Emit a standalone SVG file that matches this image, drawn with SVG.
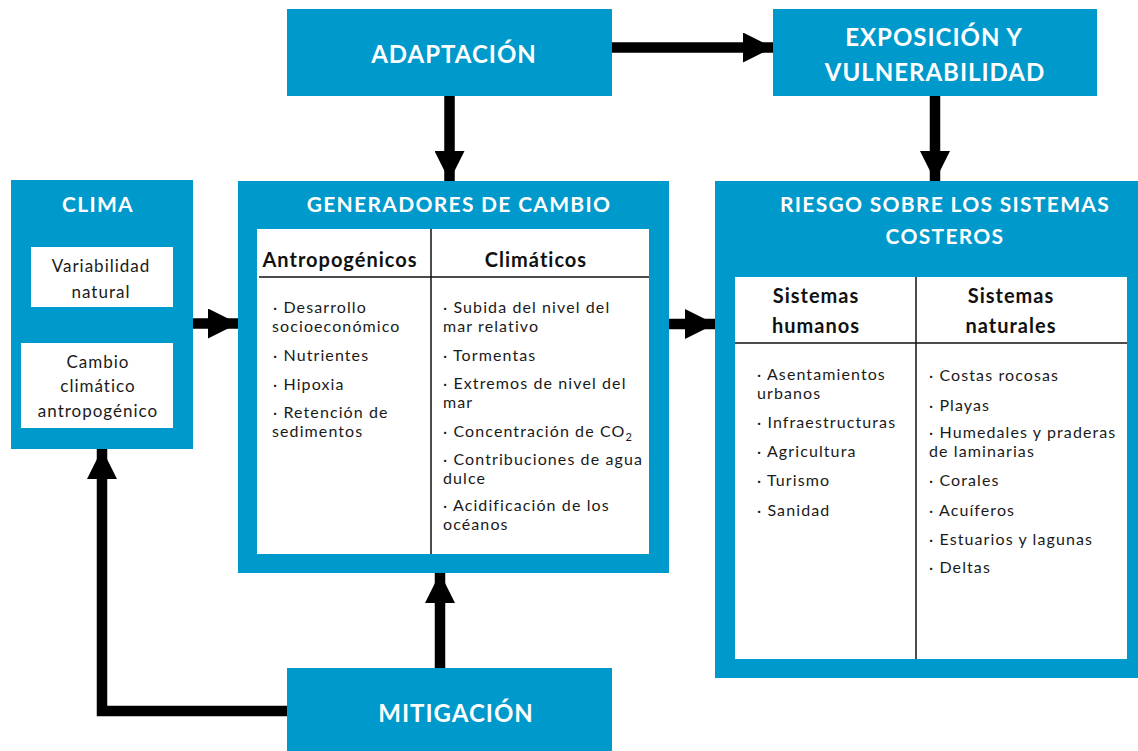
<svg xmlns="http://www.w3.org/2000/svg" width="1138" height="751" viewBox="0 0 1138 751">
<style>
.box{fill:#0099cc}
.inner{fill:#ffffff}
.t{font-family:Lato,"Liberation Sans",sans-serif;font-weight:bold;fill:#ffffff;text-anchor:middle}
.big{font-size:24px;letter-spacing:1px}
.mid{font-size:21px;letter-spacing:1.3px}
.h{font-family:Lato,"Liberation Sans",sans-serif;font-weight:bold;fill:#111111;text-anchor:middle;font-size:20px;letter-spacing:1px}
.b{font-family:Lato,"Liberation Sans",sans-serif;fill:#1a1a1a;font-size:16px;letter-spacing:1.1px}
.c{text-anchor:middle;font-size:17px;letter-spacing:1px}
.rule{stroke:#111111;stroke-width:1.5;fill:none}
.conn{stroke:#000000;stroke-width:10.5;fill:none;stroke-linejoin:miter}
</style>
<defs>
<marker id="ah" viewBox="0 0 30 30" refX="30" refY="15" markerWidth="30" markerHeight="30" markerUnits="userSpaceOnUse" orient="auto">
<path d="M0,0 L30,15 L0,30 Z" fill="#000000"/>
</marker>
</defs>
<rect width="1138" height="751" fill="#ffffff"/>

<g id="connectors">
<path class="conn" d="M612,47.5 H773" marker-end="url(#ah)"/>
<path class="conn" d="M449.5,96 V181" marker-end="url(#ah)"/>
<path class="conn" d="M935,96 V181" marker-end="url(#ah)"/>
<path class="conn" d="M193,323.5 H238" marker-end="url(#ah)"/>
<path class="conn" d="M669,324 H715" marker-end="url(#ah)"/>
<path class="conn" d="M440,668 V573" marker-end="url(#ah)"/>
<path class="conn" d="M287,711 H102 V449" marker-end="url(#ah)"/>
</g>

<g id="adaptacion">
<rect class="box" x="287" y="9" width="325" height="87"/>
<text class="t big" x="454" y="63">ADAPTACIÓN</text>
</g>

<g id="exposicion">
<rect class="box" x="773" y="9" width="324" height="87"/>
<text class="t big" x="934" y="46">EXPOSICIÓN Y</text>
<text class="t big" x="935" y="81">VULNERABILIDAD</text>
</g>

<g id="clima">
<rect class="box" x="11" y="180" width="182" height="269"/>
<text class="t mid" x="98" y="212">CLIMA</text>
<rect class="inner" x="31" y="247" width="142" height="60"/>
<text class="b c" x="101" y="272">Variabilidad</text>
<text class="b c" x="101" y="298">natural</text>
<rect class="inner" x="21" y="343" width="152" height="85"/>
<text class="b c" x="98" y="368">Cambio</text>
<text class="b c" x="98" y="392">climático</text>
<text class="b c" x="98" y="417">antropogénico</text>
</g>

<g id="generadores">
<rect class="box" x="238" y="181" width="431" height="392"/>
<text class="t mid" x="459" y="212">GENERADORES DE CAMBIO</text>
<rect class="inner" x="257" y="229" width="392" height="325"/>
<line class="rule" x1="431" y1="229" x2="431" y2="554"/>
<line class="rule" x1="259" y1="277" x2="649" y2="277"/>
<text class="h" x="340" y="267">Antropogénicos</text>
<text class="h" x="536" y="267">Climáticos</text>
<text class="b">
<tspan x="273" y="313">· Desarrollo</tspan>
<tspan x="272" y="332">socioeconómico</tspan>
<tspan x="273" y="361">· Nutrientes</tspan>
<tspan x="273" y="390">· Hipoxia</tspan>
<tspan x="273" y="418">· Retención de</tspan>
<tspan x="272" y="437">sedimentos</tspan>
</text>
<text class="b">
<tspan x="443" y="313">· Subida del nivel del</tspan>
<tspan x="443" y="332">mar relativo</tspan>
<tspan x="443" y="361">· Tormentas</tspan>
<tspan x="443" y="389">· Extremos de nivel del</tspan>
<tspan x="443" y="408">mar</tspan>
<tspan x="443" y="437">· Concentración de CO</tspan><tspan dy="4" font-size="11px">2</tspan>
<tspan x="443" y="465">· Contribuciones de agua</tspan>
<tspan x="443" y="484">dulce</tspan>
<tspan x="443" y="511">· Acidificación de los</tspan>
<tspan x="443" y="530">océanos</tspan>
</text>
</g>

<g id="riesgo">
<rect class="box" x="715" y="181" width="423" height="497"/>
<text class="t mid" x="945" y="212">RIESGO SOBRE LOS SISTEMAS</text>
<text class="t mid" x="945" y="244">COSTEROS</text>
<rect class="inner" x="735" y="277" width="392" height="382"/>
<line class="rule" x1="916" y1="277" x2="916" y2="659"/>
<line class="rule" x1="735" y1="343" x2="1127" y2="343"/>
<text class="h" x="816" y="303">Sistemas</text>
<text class="h" x="816" y="333">humanos</text>
<text class="h" x="1011" y="303">Sistemas</text>
<text class="h" x="1011" y="333">naturales</text>
<text class="b">
<tspan x="757" y="380">· Asentamientos</tspan>
<tspan x="757" y="399">urbanos</tspan>
<tspan x="757" y="428">· Infraestructuras</tspan>
<tspan x="757" y="457">· Agricultura</tspan>
<tspan x="757" y="486">· Turismo</tspan>
<tspan x="757" y="516">· Sanidad</tspan>
</text>
<text class="b">
<tspan x="929" y="381">· Costas rocosas</tspan>
<tspan x="929" y="411">· Playas</tspan>
<tspan x="929" y="438">· Humedales y praderas</tspan>
<tspan x="929" y="457">de laminarias</tspan>
<tspan x="929" y="486">· Corales</tspan>
<tspan x="929" y="516">· Acuíferos</tspan>
<tspan x="929" y="545">· Estuarios y lagunas</tspan>
<tspan x="929" y="573">· Deltas</tspan>
</text>
</g>

<g id="mitigacion">
<rect class="box" x="287" y="668" width="325" height="83"/>
<text class="t big" x="456" y="722">MITIGACIÓN</text>
</g>
</svg>
